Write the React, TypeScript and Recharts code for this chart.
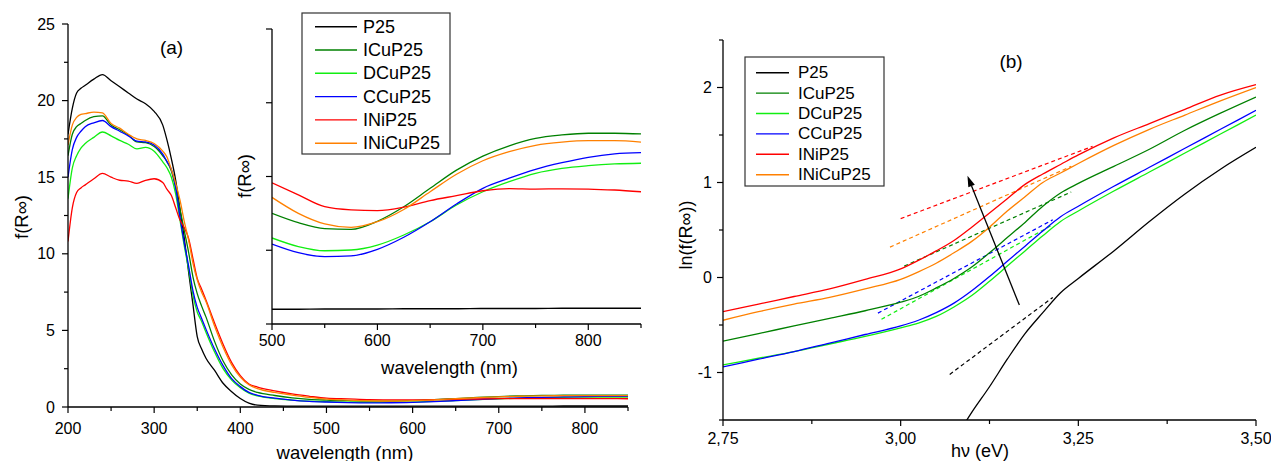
import React from "react";
import { LineChart, Line, XAxis, YAxis, ReferenceLine } from "recharts";

const FONT = '"Liberation Sans", Arial, Helvetica, sans-serif';

// series order = legend order
const seriesNames = ["P25", "ICuP25", "DCuP25", "CCuP25", "INiP25", "INiCuP25"];
const seriesColors = ["#000000", "#008000", "#11ee11", "#0000ff", "#ff0000", "#ff8000"];

// ---- panel (a): f(R∞) vs wavelength (nm) ----
const wavelengths = [
  200, 205, 210, 215, 220, 230, 240, 250, 260, 270, 280, 290, 300, 310, 315, 320, 325, 330, 335, 340,
  345, 350, 355, 360, 370, 380, 390, 400, 410, 420, 440, 460, 480, 500, 525, 550, 575, 600, 625, 650,
  675, 700, 725, 750, 775, 800, 825, 850,
];
const fP25 = [
  17.8, 19.5, 20.5, 20.8, 21.0, 21.4, 21.7, 21.3, 20.9, 20.5, 20.1, 19.8, 19.3, 18.4, 17.4, 16.2, 14.8, 12.9, 11.0, 8.8,
  6.7, 4.6, 3.8, 3.2, 2.4, 1.55, 1.0, 0.55, 0.25, 0.12, 0.07, 0.06, 0.06, 0.06, 0.06, 0.061, 0.061, 0.061, 0.062, 0.062,
  0.062, 0.063, 0.063, 0.063, 0.064, 0.064, 0.064, 0.064,
];
const fICuP25 = [
  16.4, 17.8, 18.3, 18.5, 18.7, 18.95, 19.0, 18.4, 18.1, 17.75, 17.3, 17.25, 17.0, 16.4, 16.0, 15.4, 14.3, 12.9, 11.5, 10.1,
  8.5, 7.4, 6.6, 5.9, 4.3, 3.0, 2.1, 1.5, 1.15, 0.95, 0.75, 0.6, 0.5, 0.45, 0.412, 0.388, 0.385, 0.418, 0.477, 0.552,
  0.626, 0.683, 0.725, 0.755, 0.769, 0.776, 0.776, 0.773,
];
const fDCuP25 = [
  13.6, 15.6, 16.4, 16.9, 17.2, 17.6, 17.95, 17.7, 17.4, 17.15, 16.85, 16.95, 16.7, 16.0, 15.6, 15.0, 13.9, 12.2, 10.5, 9.0,
  7.3, 6.2, 5.6, 4.9, 3.6, 2.5, 1.75, 1.25, 0.9, 0.72, 0.55, 0.45, 0.38, 0.35, 0.315, 0.298, 0.301, 0.321, 0.362, 0.416,
  0.484, 0.538, 0.579, 0.613, 0.633, 0.644, 0.651, 0.654,
];
const fCCuP25 = [
  15.0, 16.8, 17.6, 18.0, 18.3, 18.55, 18.7, 18.3, 18.0, 17.7, 17.35, 17.3, 17.1, 16.5, 16.0, 15.5, 14.3, 12.4, 10.7, 9.2,
  7.6, 6.5, 5.8, 5.1, 3.8, 2.7, 1.85, 1.33, 0.95, 0.76, 0.58, 0.45, 0.37, 0.325, 0.29, 0.274, 0.277, 0.304, 0.353, 0.416,
  0.488, 0.552, 0.593, 0.629, 0.656, 0.678, 0.692, 0.697,
];
const fINiP25 = [
  10.8, 13.0, 14.0, 14.3, 14.5, 14.9, 15.25, 15.0, 14.8, 14.75, 14.6, 14.8, 14.9, 14.65, 14.2, 13.8, 13.0, 12.2, 11.7, 11.0,
  9.7, 8.4, 7.7, 7.0, 5.5, 4.1, 2.9, 2.05, 1.5, 1.3, 1.05, 0.85, 0.7, 0.574, 0.525, 0.477, 0.464, 0.461, 0.475, 0.502,
  0.522, 0.542, 0.551, 0.549, 0.55, 0.549, 0.545, 0.538,
];
const fINiCuP25 = [
  17.1, 18.4, 18.9, 19.1, 19.15, 19.25, 19.2, 18.5, 18.2, 17.8, 17.5, 17.4, 17.2, 16.7, 16.3, 15.5, 14.6, 13.5, 12.1, 10.9,
  9.4, 8.3, 7.5, 6.9, 5.3, 3.9, 2.75, 1.95, 1.45, 1.2, 0.95, 0.78, 0.63, 0.515, 0.45, 0.407, 0.393, 0.416, 0.466, 0.538,
  0.609, 0.664, 0.701, 0.727, 0.74, 0.746, 0.746, 0.74,
];
const fSeries = [fP25, fICuP25, fDCuP25, fCCuP25, fINiP25, fINiCuP25];

const mainXMajor = [200, 300, 400, 500, 600, 700, 800];
const mainXMinor = [250, 350, 450, 550, 650, 750, 850];
const mainYMajor = [0, 5, 10, 15, 20, 25];
const mainYMinor = [2.5, 7.5, 12.5, 17.5, 22.5];
const insetXMajor = [500, 600, 700, 800];
const insetXMinor = [550, 650, 750, 850];
const insetYMajor = [0, 0.3, 0.6, 0.9, 1.2];

// ---- panel (b): ln(f(R∞)) vs hν (eV) ----
const energies = [
  2.75, 2.8, 2.85, 2.9, 2.95, 3.0, 3.025, 3.05, 3.075, 3.1, 3.125, 3.15, 3.175, 3.2, 3.225, 3.25, 3.3, 3.35, 3.4, 3.45, 3.5,
];
const lnP25 = [
  null, null, null, null, null, null, null, null, -1.72, -1.42, -1.15, -0.86, -0.59, -0.37, -0.16, -0.01, 0.28, 0.59, 0.88, 1.14, 1.37,
];
const lnICuP25 = [
  -0.67, -0.59, -0.51, -0.43, -0.35, -0.26, -0.2, -0.11, -0.01, 0.11, 0.26, 0.42, 0.58, 0.75, 0.89, 0.99, 1.17, 1.35, 1.55, 1.73, 1.9,
];
const lnDCuP25 = [
  -0.92, -0.85, -0.78, -0.7, -0.62, -0.53, -0.48, -0.41, -0.31, -0.19, -0.04, 0.12, 0.28, 0.44, 0.59, 0.7, 0.91, 1.11, 1.31, 1.51, 1.71,
];
const lnCCuP25 = [
  -0.94, -0.86, -0.78, -0.69, -0.6, -0.51, -0.45, -0.37, -0.27, -0.14, 0.01, 0.17, 0.33, 0.49, 0.64, 0.75, 0.96, 1.16, 1.36, 1.56, 1.76,
];
const lnINiP25 = [
  -0.36, -0.28, -0.2, -0.12, -0.02, 0.09, 0.18, 0.28, 0.39, 0.53, 0.68, 0.83, 0.98, 1.09, 1.19, 1.29, 1.47, 1.62, 1.77, 1.92, 2.03,
];
const lnINiCuP25 = [
  -0.45, -0.36, -0.28, -0.21, -0.12, -0.02, 0.06, 0.15, 0.26, 0.38, 0.53, 0.7, 0.85, 1.0, 1.1, 1.2, 1.39, 1.56, 1.71, 1.86, 2.0,
];
const lnSeries = [lnP25, lnICuP25, lnDCuP25, lnCCuP25, lnINiP25, lnINiCuP25];

// linear fits (dashed), same series order
const fitStartE = [3.069, 3.005, 2.973, 2.968, 3.0, 2.985];
const fitStartV = [-1.02, 0.12, -0.44, -0.375, 0.62, 0.32];
const fitEndE = [3.214, 3.24, 3.214, 3.214, 3.27, 3.24];
const fitEndV = [-0.21, 0.9, 0.555, 0.607, 1.38, 1.17];

const arrowTail = [3.167, -0.29];
const arrowHead = [3.094, 1.07];

const bXMajor = [2.75, 3.0, 3.25, 3.5];
const bXMinor = [2.875, 3.125, 3.375];
const bYMajor = [-1, 0, 1, 2];
const bYMinor = [-1.5, -0.5, 0.5, 1.5, 2.5];

const mainRows = wavelengths.map((wl, i) => {
  const row: any = { wl };
  seriesNames.forEach((n, k) => (row[n] = fSeries[k][i]));
  return row;
});
const insetRows = mainRows.filter((r) => r.wl >= 500);
const bRows = energies.map((e, i) => {
  const row: any = { e };
  seriesNames.forEach((n, k) => (row[n] = lnSeries[k][i]));
  return row;
});

type TickCfg = { side: "x" | "y"; majors: number[]; label: boolean; gap: number; fmt: (v: number) => string };

const makeTick = (cfg: TickCfg) => (p: any) => {
  const v = p.payload.value;
  const major = cfg.majors.some((m) => Math.abs(m - v) < 1e-6);
  const len = major ? 6 : 4;
  if (cfg.side === "x") {
    return (
      <g>
        <line x1={p.x} y1={p.y} x2={p.x} y2={p.y + len} stroke="#000" strokeWidth={1.2} />
        {major && cfg.label && (
          <text x={p.x} y={p.y + cfg.gap} textAnchor="middle" dominantBaseline="central" fontSize={16} fontFamily={FONT} fill="#000">
            {cfg.fmt(v)}
          </text>
        )}
      </g>
    );
  }
  return (
    <g>
      <line x1={p.x} y1={p.y} x2={p.x - len} y2={p.y} stroke="#000" strokeWidth={1.2} />
      {major && cfg.label && (
        <text x={p.x - cfg.gap} y={p.y} textAnchor="end" dominantBaseline="central" fontSize={16} fontFamily={FONT} fill="#000">
          {cfg.fmt(v)}
        </text>
      )}
    </g>
  );
};

const ArrowShape = (p: any) => {
  const { x1, y1, x2, y2 } = p;
  const dx = x2 - x1;
  const dy = y2 - y1;
  const L = Math.hypot(dx, dy) || 1;
  const ux = dx / L;
  const uy = dy / L;
  const hl = 11;
  const hw = 3.5;
  const bx = x2 - ux * hl;
  const by = y2 - uy * hl;
  return (
    <g>
      <line x1={x1} y1={y1} x2={bx} y2={by} stroke="#000" strokeWidth={1.3} />
      <polygon points={`${x2},${y2} ${bx - uy * hw},${by + ux * hw} ${bx + uy * hw},${by - ux * hw}`} fill="#000" />
    </g>
  );
};

const axisLine = { stroke: "#000", strokeWidth: 1.3 };
const plain = (v: number) => String(v);
const comma = (v: number) => v.toFixed(2).replace(".", ",");

function LegendBox({ x, y, w, h, rowY, step, lineX0, lineX1, textX, fontSize }: any) {
  return (
    <g>
      <rect x={x} y={y} width={w} height={h} fill="#fff" stroke="#333" strokeWidth={1.2} />
      {seriesNames.map((n, i) => (
        <g key={n}>
          <line x1={lineX0} x2={lineX1} y1={rowY + i * step} y2={rowY + i * step} stroke={seriesColors[i]} strokeWidth={1.4} />
          <text x={textX} y={rowY + i * step} dominantBaseline="central" fontSize={fontSize} fill="#000">
            {n}
          </text>
        </g>
      ))}
    </g>
  );
}

export default function App() {
  return (
    <div style={{ position: "absolute", left: 0, top: 0, width: 1271, height: 461, background: "#fff", overflow: "hidden" }}>
      {/* (a) main */}
      <div style={{ position: "absolute", left: 0, top: 0 }}>
        <LineChart width={640} height={461} data={mainRows} margin={{ top: 24, right: 12, bottom: 0, left: 0 }}>
          <XAxis
            type="number"
            dataKey="wl"
            domain={[200, 850]}
            allowDataOverflow
            ticks={[...mainXMajor, ...mainXMinor]}
            interval={0}
            tickSize={0}
            tickMargin={0}
            tickLine={false}
            axisLine={axisLine}
            height={54}
            tick={makeTick({ side: "x", majors: mainXMajor, label: true, gap: 21, fmt: plain })}
          />
          <YAxis
            type="number"
            domain={[0, 25]}
            allowDataOverflow
            ticks={[...mainYMajor, ...mainYMinor]}
            interval={0}
            tickSize={0}
            tickMargin={0}
            tickLine={false}
            axisLine={axisLine}
            width={68}
            tick={makeTick({ side: "y", majors: mainYMajor, label: true, gap: 13, fmt: plain })}
          />
          {seriesNames.map((n, i) => (
            <Line key={n} type="monotone" dataKey={n} stroke={seriesColors[i]} strokeWidth={1.3} dot={false} isAnimationActive={false} />
          ))}
        </LineChart>
      </div>

      {/* (a) inset */}
      <div style={{ position: "absolute", left: 200, top: 0 }}>
        <LineChart width={460} height={400} data={insetRows} margin={{ top: 29, right: 19, bottom: 0, left: 0 }}>
          <XAxis
            type="number"
            dataKey="wl"
            domain={[500, 850]}
            allowDataOverflow
            ticks={[...insetXMajor, ...insetXMinor]}
            interval={0}
            tickSize={0}
            tickMargin={0}
            tickLine={false}
            axisLine={axisLine}
            height={76}
            tick={makeTick({ side: "x", majors: insetXMajor, label: true, gap: 16, fmt: plain })}
          />
          <YAxis
            type="number"
            domain={[0, 1.2]}
            allowDataOverflow
            ticks={insetYMajor}
            interval={0}
            tickSize={0}
            tickMargin={0}
            tickLine={false}
            axisLine={axisLine}
            width={72}
            tick={makeTick({ side: "y", majors: insetYMajor, label: false, gap: 10, fmt: plain })}
          />
          {seriesNames.map((n, i) => (
            <Line key={n} type="monotone" dataKey={n} stroke={seriesColors[i]} strokeWidth={1.3} dot={false} isAnimationActive={false} />
          ))}
        </LineChart>
      </div>

      {/* (b) */}
      <div style={{ position: "absolute", left: 660, top: 0 }}>
        <LineChart width={611} height={461} data={bRows} margin={{ top: 40, right: 15, bottom: 0, left: 0 }}>
          <XAxis
            type="number"
            dataKey="e"
            domain={[2.75, 3.5]}
            allowDataOverflow
            ticks={[...bXMajor, ...bXMinor]}
            interval={0}
            tickSize={0}
            tickMargin={0}
            tickLine={false}
            axisLine={axisLine}
            height={41}
            tick={makeTick({ side: "x", majors: bXMajor, label: true, gap: 18, fmt: comma })}
          />
          <YAxis
            type="number"
            domain={[-1.5, 2.5]}
            allowDataOverflow
            ticks={[...bYMajor, ...bYMinor]}
            interval={0}
            tickSize={0}
            tickMargin={0}
            tickLine={false}
            axisLine={axisLine}
            width={63}
            tick={makeTick({ side: "y", majors: bYMajor, label: true, gap: 11, fmt: plain })}
          />
          {seriesNames.map((n, i) => (
            <Line
              key={"fit" + n}
              type="linear"
              data={[
                { e: fitStartE[i], fit: fitStartV[i] },
                { e: fitEndE[i], fit: fitEndV[i] },
              ]}
              dataKey="fit"
              stroke={seriesColors[i]}
              strokeWidth={1.2}
              strokeDasharray="4 3"
              dot={false}
              isAnimationActive={false}
            />
          ))}
          {seriesNames.map((n, i) => (
            <Line key={n} type="monotone" dataKey={n} stroke={seriesColors[i]} strokeWidth={1.3} dot={false} isAnimationActive={false} />
          ))}
          <ReferenceLine
            segment={[
              { x: arrowTail[0], y: arrowTail[1] },
              { x: arrowHead[0], y: arrowHead[1] },
            ]}
            shape={ArrowShape}
          />
        </LineChart>
      </div>

      {/* texts and legends */}
      <svg width={1271} height={461} style={{ position: "absolute", left: 0, top: 0, pointerEvents: "none" }} fontFamily={FONT} fill="#000">
        <text x={171.5} y={47} textAnchor="middle" dominantBaseline="central" fontSize={19}>(a)</text>
        <text x={1011} y={61} textAnchor="middle" dominantBaseline="central" fontSize={19}>(b)</text>
        <text x={345} y={452} textAnchor="middle" dominantBaseline="central" fontSize={18.5}>wavelength (nm)</text>
        <text x={449.5} y={367} textAnchor="middle" dominantBaseline="central" fontSize={18.5}>wavelength (nm)</text>
        <text x={980} y={451} textAnchor="middle" dominantBaseline="central" fontSize={18}>hν (eV)</text>
        <text transform="translate(21,217) rotate(-90)" textAnchor="middle" dominantBaseline="central" fontSize={18.5}>f(R∞)</text>
        <text transform="translate(244,176) rotate(-90)" textAnchor="middle" dominantBaseline="central" fontSize={18.5}>f(R∞)</text>
        <text transform="translate(686,235) rotate(-90)" textAnchor="middle" dominantBaseline="central" fontSize={18}>ln(f(R∞))</text>
        <LegendBox x={302} y={13} w={148} h={141} rowY={26.7} step={23.3} lineX0={315} lineX1={357} textX={363} fontSize={18} />
        <LegendBox x={745} y={57} w={139} h={129} rowY={72.7} step={20.4} lineX0={756} lineX1={789} textX={798} fontSize={17} />
      </svg>
    </div>
  );
}
